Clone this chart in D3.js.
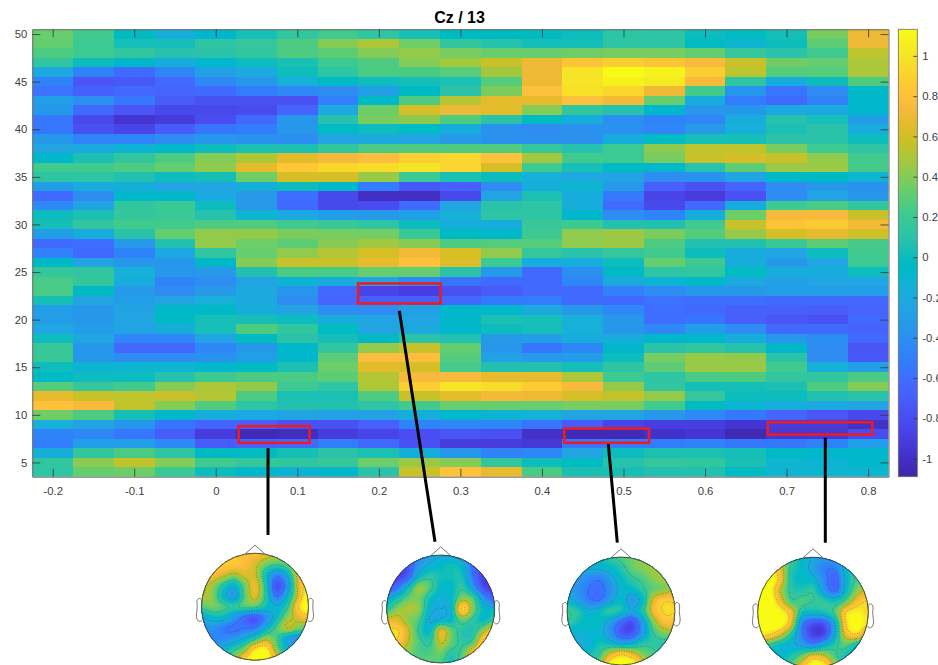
<!DOCTYPE html>
<html>
<head>
<meta charset="utf-8">
<script src="https://d3js.org/d3.v7.min.js"></script>
<style>
html, body { margin: 0; padding: 0; background: #fff; overflow: hidden; }
text { font-family: "Liberation Sans", Arial, sans-serif; }
.tick text { font-size: 11.3px; fill: #404040; }
.tick line { stroke: #333; stroke-width: .8; }
</style>
</head>
<body>
<svg id="chart" width="938" height="665"></svg>
<script>
// chart values
const times = [-0.2,-0.15,-0.1,-0.05,0,0.05,0.1,0.15,0.2,0.25,0.3,0.35,0.4,0.45,0.5,0.55,0.6,0.65,0.7,0.75,0.8];
const freqs = d3.range(50, 3, -1);
const xTicks = [-0.2,-0.1,0,0.1,0.2,0.3,0.4,0.5,0.6,0.7,0.8];
const yTicks = [5,10,15,20,25,30,35,40,45,50];
const cbTicks = [-1,-0.8,-0.6,-0.4,-0.2,0,0.2,0.4,0.6,0.8,1];
const cLimits = [-1.09, 1.132];

// one row per frequency, 50 Hz first
const powerRows = [
[.33,.22,-.02,-.17,-.08,.03,.15,.22,.13,.03,-.03,-.03,-.02,0,.12,.12,-.01,-.02,.04,.37,.7],
[.32,.2,.03,.02,.12,.16,.26,.4,.5,.35,.15,.08,.02,.04,.12,.12,-.02,-.1,.01,.3,.7],
[.26,.2,.15,.08,.1,.15,.26,.3,.4,.44,.37,.33,.33,.35,.37,.37,.32,.16,.1,.22,.55],
[.14,0,-.07,-.18,-.08,0,.05,.2,.26,.4,.48,.58,.7,.82,.88,.82,.74,.58,.35,.32,.5],
[-.22,-.48,-.62,-.46,-.28,-.2,.01,.13,.25,.25,.29,.48,.7,1,1.13,1.08,.88,.54,.28,.28,.5],
[-.48,-.76,-.74,-.63,-.45,-.35,-.15,-.03,0,.02,.05,.28,.7,1,1.08,1.04,.74,.13,-.18,0,.26],
[-.58,-.68,-.64,-.66,-.62,-.52,-.45,-.42,-.28,-.03,.1,.38,.8,.98,.92,.7,.22,-.36,-.56,-.42,-.05],
[-.3,-.38,-.55,-.72,-.78,-.78,-.78,-.5,-.05,.26,.52,.66,.68,.8,.72,.33,-.18,-.52,-.62,-.48,-.08],
[-.34,-.62,-.76,-.84,-.84,-.82,-.66,-.22,.34,.62,.7,.66,.4,.15,.08,-.08,-.35,-.35,-.22,-.22,-.08],
[-.55,-.84,-.97,-.92,-.8,-.62,-.35,.08,.37,.42,.26,.1,-.02,-.18,-.4,-.48,-.46,-.18,.08,.03,-.3],
[-.55,-.78,-.86,-.72,-.56,-.52,-.35,-.04,0,-.04,-.18,-.38,-.42,-.38,-.38,-.46,-.32,-.15,.05,.1,-.18],
[-.34,-.47,-.47,-.42,-.35,-.38,-.4,-.25,-.2,-.24,-.33,-.38,-.38,-.38,-.18,-.02,.03,.04,.1,.1,0],
[-.25,-.2,-.12,-.06,0,.05,.05,.15,.25,.26,.26,.27,.16,.08,.2,.42,.54,.54,.37,.2,.12],
[-.07,.05,.15,.26,.4,.5,.66,.73,.78,.88,.92,.8,.48,.22,.2,.37,.58,.62,.58,.43,.22],
[.22,.22,.26,.32,.43,.66,.84,.93,.96,1,.92,.62,.2,.03,-.03,-.06,.08,.3,.46,.46,.23],
[.12,.12,.06,-.01,.04,.35,.62,.62,.45,.2,.05,0,-.15,-.2,-.25,-.42,-.38,-.25,-.05,-.03,-.1],
[-.3,-.18,-.16,-.24,-.24,-.16,0,-.06,-.52,-.74,-.68,-.42,-.18,-.1,-.32,-.7,-.78,-.66,-.42,-.34,-.38],
[-.62,-.42,-.07,-.06,-.22,-.33,-.6,-.84,-1.02,-1.02,-.84,-.25,.05,-.18,-.54,-.86,-.92,-.78,-.42,-.25,-.34],
[-.45,-.25,.15,.19,0,-.33,-.62,-.84,-.8,-.62,-.24,.1,.12,-.17,-.62,-.84,-.64,-.18,.2,.25,.15],
[0,.05,.16,.19,.08,-.1,-.22,-.3,-.33,-.28,-.15,.12,.13,-.08,-.42,-.47,-.18,.34,.73,.75,.58],
[.04,.15,.22,.22,.26,.27,.22,.18,.12,-.01,-.17,-.18,.18,.2,.06,.06,.22,.58,.82,.87,.72],
[-.3,-.17,.1,.32,.44,.44,.38,.36,.36,.18,-.03,-.06,.2,.43,.46,.38,.28,.45,.62,.68,.6],
[-.62,-.6,-.33,.07,.44,.34,.3,.41,.47,.41,.26,.28,.28,.43,.46,.26,.06,.06,.18,.3,.23],
[-.5,-.62,-.48,-.22,.14,.33,.43,.52,.62,.72,.62,.43,.16,.1,.17,.22,0,-.18,-.24,0,.22],
[-.05,-.25,-.35,-.35,-.05,.4,.58,.58,.68,.8,.64,.2,-.18,-.18,0,.32,.2,-.18,-.34,-.24,.2],
[.16,.14,-.15,-.35,-.33,.06,.25,.25,.32,.32,.1,-.32,-.62,-.4,-.05,.12,.14,-.02,-.18,-.18,0],
[.24,.16,-.18,-.47,-.42,-.25,-.12,-.18,-.26,-.45,-.56,-.62,-.62,-.46,-.2,-.12,-.05,-.2,-.28,-.24,-.24],
[.24,-.03,-.32,-.42,-.32,-.2,-.36,-.64,-.86,-.9,-.78,-.72,-.64,-.62,-.5,-.42,-.34,-.34,-.3,-.3,-.3],
[.04,-.25,-.3,-.25,-.15,-.2,-.42,-.65,-.7,-.7,-.64,-.54,-.52,-.62,-.62,-.58,-.6,-.6,-.62,-.62,-.64],
[-.3,-.35,-.25,-.05,-.05,-.16,-.25,-.42,-.42,-.28,-.07,-.08,-.2,-.33,-.45,-.6,-.62,-.7,-.7,-.72,-.66],
[-.3,-.35,-.24,-.03,.03,.04,-.01,-.16,-.24,-.24,-.06,.05,.03,-.15,-.34,-.6,-.56,-.7,-.76,-.78,-.62],
[-.24,-.3,-.26,-.16,.03,.26,.15,-.02,-.25,-.2,-.06,0,.02,-.15,-.35,-.44,-.3,-.42,-.62,-.62,-.66],
[0,-.24,-.46,-.46,-.26,-.02,.1,.02,-.03,.1,.06,-.33,-.3,-.18,-.16,-.07,-.06,-.17,-.35,-.4,-.62],
[.18,-.34,-.64,-.64,-.46,-.34,-.07,.14,.44,.58,.32,-.35,-.56,-.46,-.06,.1,.15,.08,-.06,-.42,-.76],
[.18,-.34,-.42,-.42,-.38,-.3,-.08,.3,.78,.78,.28,-.27,-.33,-.3,0,.36,.45,.44,.1,-.42,-.74],
[0,-.12,-.1,-.1,-.08,-.03,.05,.34,.66,.62,.23,.06,.06,.02,.12,.3,.45,.45,.22,-.15,-.28],
[-.03,-.01,-.01,.08,.2,.25,.25,.3,.52,.74,.74,.68,.68,.5,.2,.12,.25,.26,.14,.14,.25],
[.28,.16,.22,.4,.5,.44,.2,.12,.5,.88,1,.96,.86,.74,.44,.14,.04,.04,.05,.26,.4],
[.68,.58,.54,.58,.52,.26,.05,.05,.26,.58,.66,.72,.7,.62,.56,.44,.16,0,0,.06,.1],
[.8,.74,.56,.4,.27,.12,.07,.06,.12,.22,.33,.33,.33,.36,.36,.22,-.02,-.1,-.18,-.22,-.25],
[.35,.26,.04,-.08,-.18,-.22,-.25,-.27,-.27,-.18,-.08,-.12,-.14,-.25,-.25,-.34,-.45,-.55,-.66,-.76,-.84],
[-.15,-.25,-.36,-.56,-.67,-.7,-.78,-.78,-.7,-.48,-.46,-.46,-.56,-.72,-.86,-.9,-.9,-.96,-.92,-.92,-1],
[-.48,-.46,-.56,-.72,-.92,-1.04,-1.03,-.92,-.86,-.8,-.76,-.78,-1,-1.05,-1.05,-.98,-.96,-1.06,-.95,-.95,-.8],
[-.52,-.3,-.3,-.45,-.72,-.66,-.62,-.52,-.62,-.78,-.92,-.92,-.94,-.55,-.52,-.52,-.48,-.55,-.55,-.48,-.3],
[-.16,.15,.25,.12,-.03,-.02,.04,.1,.05,-.17,-.36,-.48,-.46,-.25,-.01,.05,.05,.02,-.05,-.08,-.06],
[.14,.42,.56,.4,.22,.17,.15,.18,.34,.45,.4,.15,0,-.02,.08,.16,.14,.05,-.1,-.12,-.06],
[.12,.32,.34,.19,.01,-.08,-.12,-.08,.1,.58,.8,.68,.25,.05,.04,.06,.07,-.02,-.1,-.1,-.1]
];

// marked windows: time from/to, freq from/to
const boxT0 = [0.028, 0.1746, 0.4274, 0.6769];
const boxT1 = [0.115, 0.2756, 0.5313, 0.8052];
const boxF0 = [7.05, 21.7, 7.06, 7.93];
const boxF1 = [8.8, 23.8, 8.56, 9.22];
const lineT = [0.0641, 0.2251, 0.4814, 0.7475];
const lineF = [6.48, 20.94, 6.93, 7.6];

// scalp maps, 11 x 11 samples across the head, front row first, 0 = low, 1 = high
const topo1 = [
[.8,.8,.8,.8,.78,.78,.75,.7,.7,.75,.8],
[.8,.8,.82,.82,.78,.72,.6,.55,.6,.78,.85],
[.78,.78,.72,.65,.72,.7,.45,.25,.38,.72,.88],
[.7,.65,.5,.4,.58,.75,.48,.1,.28,.7,.92],
[.68,.62,.42,.3,.55,.72,.5,.2,.38,.7,.98],
[.55,.6,.55,.5,.55,.55,.45,.38,.5,.82,1],
[.35,.42,.42,.3,.18,.12,.25,.42,.62,.72,.8],
[.28,.28,.22,.18,.2,.22,.38,.55,.68,.6,.55],
[.3,.25,.25,.3,.38,.5,.65,.55,.35,.3,.45],
[.3,.35,.4,.5,.62,.88,.92,.62,.42,.4,.5],
[.5,.5,.55,.62,.85,1,1,.8,.6,.55,.55]
];
const topo2 = [
[.3,.25,.2,.25,.32,.35,.35,.3,.2,.1,.1],
[.1,.08,.12,.3,.38,.42,.45,.4,.18,.08,.08],
[.05,.05,.15,.42,.5,.45,.45,.45,.2,.05,.04],
[.1,.2,.42,.64,.55,.42,.42,.5,.3,.08,.04],
[.35,.45,.58,.6,.45,.38,.42,.62,.55,.28,.15],
[.5,.62,.66,.62,.4,.36,.42,.86,.6,.42,.4],
[.72,.72,.62,.55,.35,.38,.42,.58,.5,.42,.55],
[.85,.85,.7,.5,.42,.72,.58,.48,.48,.65,.85],
[.85,.82,.68,.55,.5,.7,.58,.5,.55,.88,1],
[.72,.7,.62,.55,.55,.6,.5,.55,.78,.98,1],
[.6,.6,.6,.58,.58,.55,.45,.6,.85,.95,.9]
];
const topo3 = [
[.4,.4,.42,.45,.5,.55,.6,.62,.62,.6,.6],
[.38,.38,.38,.38,.42,.48,.58,.62,.65,.65,.65],
[.3,.3,.25,.22,.32,.42,.5,.55,.62,.65,.65],
[.32,.28,.2,.17,.26,.4,.42,.5,.58,.62,.68],
[.42,.32,.22,.2,.32,.42,.3,.42,.72,.82,.82],
[.52,.48,.38,.42,.5,.45,.35,.48,.75,.85,.85],
[.52,.45,.42,.42,.32,.18,.1,.32,.62,.78,.78],
[.4,.38,.4,.4,.28,.12,.1,.3,.52,.62,.65],
[.4,.38,.38,.45,.42,.35,.38,.48,.5,.48,.5],
[.42,.42,.45,.52,.72,.82,.75,.62,.55,.5,.5],
[.45,.45,.5,.62,.92,1,.98,.75,.6,.55,.55]
];
const topo4 = [
[.7,.7,.7,.55,.42,.35,.3,.32,.45,.55,.55],
[.85,.9,.75,.5,.42,.32,.22,.22,.42,.55,.6],
[1,1,.8,.48,.42,.4,.25,.15,.4,.55,.62],
[1,.98,.7,.5,.47,.5,.3,.18,.42,.62,.7],
[1,1,.78,.55,.55,.52,.5,.45,.58,.78,.85],
[1,1,.95,.78,.45,.42,.45,.55,.85,.92,.85],
[1,1,.98,.75,.25,.1,.12,.38,.85,1,.85],
[.88,.85,.72,.5,.22,.06,.08,.38,.75,.82,.6],
[.55,.5,.42,.38,.35,.28,.4,.5,.55,.42,.32],
[.4,.45,.42,.48,.6,.78,.72,.55,.45,.35,.3],
[.4,.42,.45,.55,.8,.98,.95,.7,.5,.4,.35]
];

const parula = [
[.2422,.1504,.6603],[.2504,.1650,.7076],[.2578,.1818,.7511],[.2647,.1978,.7952],[.2706,.2147,.8364],[.2751,.2342,.8710],
[.2783,.2559,.8991],[.2803,.2782,.9221],[.2813,.3006,.9414],[.2810,.3228,.9579],[.2795,.3447,.9717],[.2760,.3667,.9829],
[.2699,.3892,.9906],[.2602,.4123,.9952],[.2440,.4358,.9988],[.2206,.4603,.9973],[.1963,.4847,.9892],[.1834,.5074,.9798],
[.1786,.5289,.9682],[.1764,.5499,.9520],[.1687,.5703,.9359],[.1540,.5902,.9218],[.1460,.6091,.9079],[.1380,.6276,.8973],
[.1248,.6459,.8883],[.1113,.6635,.8763],[.0952,.6798,.8598],[.0689,.6948,.8394],[.0297,.7082,.8163],[.0036,.7203,.7917],
[.0067,.7312,.7660],[.0433,.7411,.7394],[.0964,.7500,.7120],[.1408,.7584,.6842],[.1717,.7670,.6554],[.1938,.7758,.6251],
[.2161,.7843,.5923],[.2470,.7918,.5567],[.2906,.7973,.5188],[.3406,.8008,.4789],[.3909,.8029,.4354],[.4456,.8024,.3909],
[.5044,.7993,.3480],[.5616,.7942,.3045],[.6174,.7876,.2612],[.6720,.7793,.2227],[.7242,.7698,.1910],[.7738,.7598,.1646],
[.8203,.7498,.1535],[.8634,.7406,.1596],[.9035,.7330,.1774],[.9393,.7288,.2100],[.9728,.7298,.2394],[.9956,.7434,.2371],
[.9970,.7659,.2199],[.9952,.7893,.2028],[.9892,.8136,.1885],[.9786,.8386,.1766],[.9676,.8639,.1643],[.9610,.8890,.1537],
[.9597,.9135,.1423],[.9628,.9373,.1265],[.9691,.9606,.1064],[.9769,.9839,.0805]
].map(c => d3.rgb(c[0]*255, c[1]*255, c[2]*255).formatHex());

const svg = d3.select("#chart");
const plotLeft = 32.3, plotRight = 888.5, plotTop = 29.3, plotBottom = 476.7;
const cbLeft = 898.3, cbRight = 917.3;

const x = d3.scaleLinear().domain([-0.225, 0.825]).range([plotLeft, plotRight]);
const y = d3.scaleLinear().domain([3.5, 50.5]).range([plotBottom, plotTop]);
const parulaInterp = d3.piecewise(d3.interpolateRgb, parula);
const color = d3.scaleSequential(parulaInterp).domain(cLimits);
const cbY = d3.scaleLinear().domain(cLimits).range([plotBottom, plotTop]);

const defs = svg.append("defs");
defs.append("clipPath").attr("id", "plotClip")
	.append("rect").attr("x", plotLeft).attr("y", plotTop)
	.attr("width", plotRight - plotLeft).attr("height", plotBottom - plotTop);
// the source picture is a slightly soft screenshot
defs.append("filter").attr("id", "soft")
	.attr("x", "-2%").attr("y", "-2%").attr("width", "104%").attr("height", "104%")
	.append("feGaussianBlur").attr("stdDeviation", .5);

// heat map
const cells = [];
powerRows.forEach(function(row, i){
	row.forEach(function(v, j){
		cells.push({t: times[j], f: freqs[i], v: v});
	});
});
svg.append("g").attr("clip-path", "url(#plotClip)")
	.append("g").attr("shape-rendering", "crispEdges").attr("filter", "url(#soft)")
	.selectAll("rect").data(cells).enter().append("rect")
	.attr("x", d => x(d.t - 0.025) - (d.t === times[0] ? 3 : 0))
	.attr("y", d => y(d.f + 0.5) - (d.f === freqs[0] ? 3 : 0))
	.attr("width", d => x(d.t + 0.025) - x(d.t - 0.025) + (d.t === times[0] || d.t === times[20] ? 3.5 : .5))
	.attr("height", d => y(d.f - 0.5) - y(d.f + 0.5) + (d.f === freqs[0] || d.f === freqs[46] ? 3.5 : .5))
	.attr("fill", d => color(d.v));

// axes, ticks point inwards on all four sides
svg.append("g").attr("transform", `translate(0,${plotBottom})`)
	.call(d3.axisBottom(x).tickValues(xTicks).tickFormat(String).tickSizeInner(-8).tickSizeOuter(0).tickPadding(10));
svg.append("g").attr("transform", `translate(0,${plotTop})`)
	.call(d3.axisTop(x).tickValues(xTicks).tickFormat("").tickSizeInner(-8).tickSizeOuter(0));
svg.append("g").attr("transform", `translate(${plotLeft},0)`)
	.call(d3.axisLeft(y).tickValues(yTicks).tickFormat(String).tickSizeInner(-8).tickSizeOuter(0).tickPadding(5));
svg.append("g").attr("transform", `translate(${plotRight},0)`)
	.call(d3.axisRight(y).tickValues(yTicks).tickFormat("").tickSizeInner(-8).tickSizeOuter(0));
svg.selectAll(".domain").attr("stroke", "#6b6b6b").attr("stroke-width", 1);

svg.append("text")
	.attr("x", 459.5).attr("y", 22.7)
	.attr("text-anchor", "middle")
	.attr("font-size", 16).attr("font-weight", "bold").attr("fill", "#000")
	.text("Cz / 13");

// colorbar
const grad = defs.append("linearGradient")
	.attr("id", "parulaGrad").attr("x1", 0).attr("y1", 1).attr("x2", 0).attr("y2", 0);
parula.forEach(function(c, i){
	grad.append("stop").attr("offset", i / (parula.length - 1)).attr("stop-color", c);
});
svg.append("rect")
	.attr("x", cbLeft).attr("y", plotTop)
	.attr("width", cbRight - cbLeft).attr("height", plotBottom - plotTop)
	.attr("fill", "url(#parulaGrad)")
	.attr("stroke", "#6b6b6b").attr("stroke-width", .8);
svg.append("g").attr("transform", `translate(${cbRight},0)`)
	.call(d3.axisRight(cbY).tickValues(cbTicks).tickFormat(String).tickSizeInner(-4).tickSizeOuter(0).tickPadding(5))
	.select(".domain").remove();

// connectors from the marked windows down to the scalp maps
const heads = [
	{cx: 255, cy: 606.7, r: 53.5, grid: topo1, lx: 268, ly: 535},
	{cx: 440.7, cy: 609, r: 54, grid: topo2, lx: 435, ly: 541.7},
	{cx: 621, cy: 611, r: 54, grid: topo3, lx: 617.3, ly: 542.7},
	{cx: 813, cy: 612.5, r: 55.3, grid: topo4, lx: 825.3, ly: 542.7}
];
heads.forEach(function(h, i){
	svg.append("line")
		.attr("x1", x(lineT[i])).attr("y1", y(lineF[i]))
		.attr("x2", h.lx).attr("y2", h.ly)
		.attr("stroke", "#000").attr("stroke-width", 3);
	svg.append("rect")
		.attr("x", x(boxT0[i])).attr("y", y(boxF1[i]))
		.attr("width", x(boxT1[i]) - x(boxT0[i]))
		.attr("height", y(boxF0[i]) - y(boxF1[i]))
		.attr("fill", "none").attr("stroke", "#ed1c24").attr("stroke-width", 2.6);
});

// scalp maps
const topoColor = d3.scaleSequential(parulaInterp).domain([-.04, .94]).clamp(true);

function catmull(p0, p1, p2, p3, t){
	return .5 * (2*p1 + (p2-p0)*t + (2*p0-5*p1+4*p2-p3)*t*t + (3*p1-p0-3*p2+p3)*t*t*t);
}

// smooth the 11 x 11 samples up to a finer grid for the contour generator
function refine(grid, k){
	const n = grid.length, m = (n - 1) * k + 1, out = new Array(m * m);
	const at = (r, c) => grid[Math.max(0, Math.min(n-1, r))][Math.max(0, Math.min(n-1, c))];
	for (let i = 0; i < m; i++) {
		const r = Math.min(Math.floor(i / k), n - 2), tr = i / k - r;
		for (let j = 0; j < m; j++) {
			const c = Math.min(Math.floor(j / k), n - 2), tc = j / k - c;
			const col = [-1, 0, 1, 2].map(dr => catmull(at(r+dr, c-1), at(r+dr, c), at(r+dr, c+1), at(r+dr, c+2), tc));
			out[i * m + j] = Math.max(0, Math.min(1, catmull(col[0], col[1], col[2], col[3], tr)));
		}
	}
	return {values: out, size: m};
}

const earX = [.497,.510,.518,.5299,.5419,.54,.547,.532,.510,.489];
const earY = [.0555,.0775,.0783,.0746,.0555,-.0055,-.0932,-.1313,-.1384,-.1199];
const noseX = [.09,0,-.09];
const noseY = [.4954,.575,.4954];
const fillLevels = d3.range(0, 1, 1 / 48);
const lineLevels = [.2, .36, .52, .68, .84];

heads.forEach(function(h, i){
	const g = svg.append("g");
	const fine = refine(h.grid, 8);
	const s = fine.size;
	const path = d3.geoPath(d3.geoTransform({
		point: function(px, py){
			this.stream.point(
				h.cx - h.r + (px - .5) / (s - 1) * 2 * h.r,
				h.cy - h.r + (py - .5) / (s - 1) * 2 * h.r
			);
		}
	}));
	g.append("clipPath").attr("id", "scalp" + i)
		.append("circle").attr("cx", h.cx).attr("cy", h.cy).attr("r", h.r);
	const inner = g.append("g").attr("clip-path", `url(#scalp${i})`);
	const contours = d3.contours().size([s, s]);

	inner.selectAll("path.band").data(contours.thresholds(fillLevels)(fine.values)).enter()
		.append("path").attr("class", "band")
		.attr("d", path)
		.attr("fill", d => topoColor(d.value + 1 / 96));
	inner.selectAll("path.iso").data(contours.thresholds(lineLevels)(fine.values)).enter()
		.append("path").attr("class", "iso")
		.attr("d", path)
		.attr("fill", "none").attr("stroke", "#222").attr("stroke-opacity", .7)
		.attr("stroke-width", .5).attr("stroke-dasharray", "1,1.5");

	// head outline, nose and ears, in eeglab head units (radius .5)
	g.append("circle").attr("cx", h.cx).attr("cy", h.cy).attr("r", h.r)
		.attr("fill", "none").attr("stroke", "#333").attr("stroke-width", .8);
	const unit = 2 * h.r;
	g.append("path")
		.attr("d", d3.line()(noseX.map((v, k) => [h.cx + v * unit, h.cy - noseY[k] * unit])))
		.attr("fill", "none").attr("stroke", "#555").attr("stroke-width", .8);
	const ear = d3.line().curve(d3.curveCatmullRom);
	[1, -1].forEach(function(side){
		g.append("path")
			.attr("d", ear(earX.map((v, k) => [h.cx + side * v * unit, h.cy - earY[k] * unit])))
			.attr("fill", "none").attr("stroke", "#555").attr("stroke-width", .8);
	});
});
</script>
</body>
</html>
